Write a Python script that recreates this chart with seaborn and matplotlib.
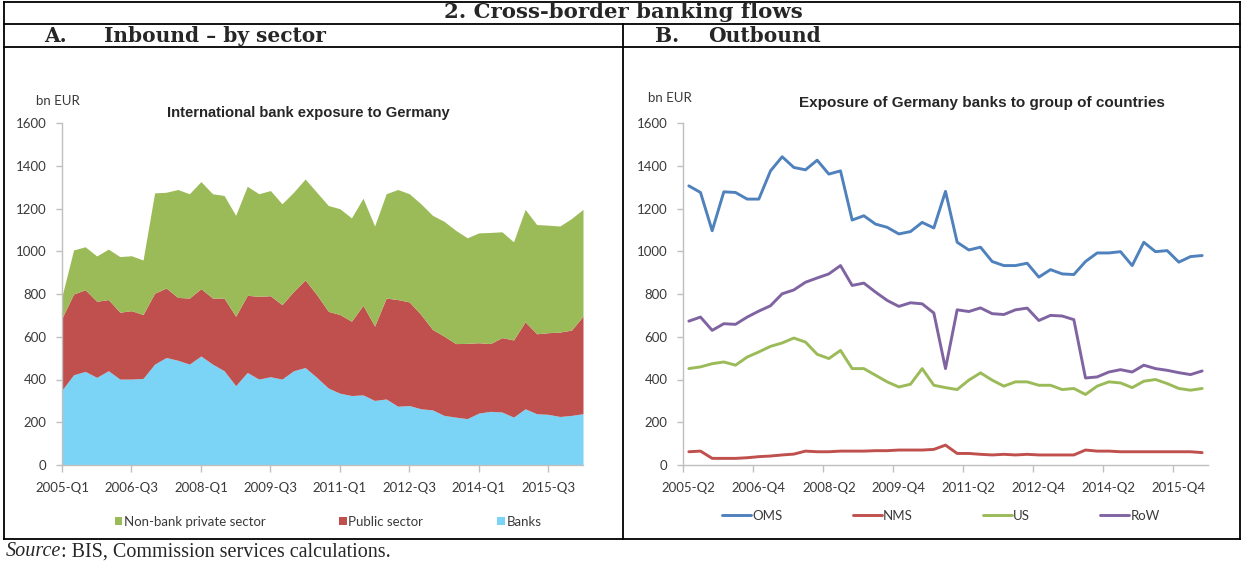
import numpy as np
import pandas as pd
import matplotlib
matplotlib.use("Agg")
import matplotlib.pyplot as plt
import seaborn as sns
from matplotlib.lines import Line2D
from matplotlib.patches import Patch

W, H = 1242, 564

# ---------------- data (bn EUR) ----------------
quarters_in = pd.period_range("2005Q1", "2016Q2", freq="Q")
quarters_out = pd.period_range("2005Q2", "2016Q2", freq="Q")

banks = [351, 422, 438, 410, 441, 402, 402, 405, 472, 503, 490, 472, 510, 472, 441,
         371, 433, 402, 413, 402, 441, 456, 410, 360, 336, 325, 328, 302, 309, 275,
         278, 263, 258, 232, 224, 217, 243, 251, 248, 224, 263, 240, 237, 227, 232, 240]
public_sector = [337, 378, 382, 356, 333, 313, 320, 299, 332, 325, 294, 309, 315, 309, 340,
                 325, 361, 387, 379, 348, 371, 410, 387, 359, 368, 348, 419, 348, 472, 499,
                 485, 441, 376, 371, 344, 352, 329, 317, 348, 361, 407, 374, 382, 395, 399, 456]
nonbank_private = [102, 206, 201, 212, 236, 260, 257, 255, 469, 448, 505, 488, 501, 488, 480,
                   472, 510, 480, 492, 472, 464, 472, 479, 495, 495, 483, 501, 468, 488, 515,
                   506, 518, 534, 537, 530, 494, 514, 520, 495, 459, 526, 511, 503, 496, 522, 500]

oms = [1306, 1275, 1096, 1278, 1275, 1244, 1244, 1376, 1442, 1392, 1381, 1426, 1361, 1376, 1146,
       1166, 1127, 1112, 1081, 1092, 1135, 1109, 1280, 1042, 1006, 1019, 952, 933, 933, 944,
       879, 914, 894, 891, 952, 992, 992, 998, 933, 1042, 998, 1003, 949, 975, 980]
nms = [62, 65, 31, 31, 31, 34, 39, 42, 47, 51, 65, 62, 62, 65, 65,
       65, 67, 67, 70, 70, 70, 73, 93, 54, 54, 50, 47, 50, 47, 50,
       47, 47, 47, 47, 70, 65, 65, 62, 62, 62, 62, 62, 62, 62, 58]
us = [451, 459, 474, 482, 467, 505, 529, 555, 571, 594, 575, 518, 498, 536, 451,
      451, 420, 389, 365, 378, 451, 373, 362, 353, 397, 431, 397, 369, 389, 389,
      373, 373, 353, 358, 330, 369, 389, 384, 362, 392, 400, 381, 358, 350, 358]
row = [673, 692, 630, 661, 658, 692, 720, 745, 801, 819, 855, 875, 894, 933, 840,
       851, 809, 770, 742, 759, 754, 711, 451, 726, 718, 735, 708, 704, 726, 734,
       676, 700, 697, 680, 407, 412, 435, 446, 435, 467, 451, 443, 432, 423, 440]

sector_labels = ["Non-bank private sector", "Public sector", "Banks"]
sector_colors = ["#9BBB59", "#C0504D", "#7BD3F6"]
group_labels = ["OMS", "NMS", "US", "RoW"]
group_colors = ["#4F81BD", "#C0504D", "#9BBB59", "#8064A2"]


def qlab(p):
    return f"{p.year}-Q{p.quarter}"


def fx(x):
    return x / W


def fy(y):
    return 1 - y / H


sns.set_theme(style="white")
plt.rcParams["font.family"] = ["Lato", "DejaVu Sans"]
tick_col = "#3a3a3a"
axis_col = "#BFBFBF"

fig = plt.figure(figsize=(W / 100, H / 100), dpi=100)

# ---------------- table frame ----------------
frame = dict(color="black", lw=1.3, solid_capstyle="projecting")
for y0 in [2, 24, 47, 539]:
    fig.add_artist(Line2D([fx(4), fx(1240)], [fy(y0), fy(y0)], **frame))
for x0, y_top in [(4, 2), (1240, 2), (623, 24)]:
    fig.add_artist(Line2D([fx(x0), fx(x0)], [fy(y_top), fy(539)], **frame))

head = dict(fontweight="bold", family=["DejaVu Serif"], va="baseline", ha="left")
fig.text(fx(623), fy(18.5), "2. Cross-border banking flows", fontsize=15.3,
         **{**head, "ha": "center"})
fig.text(fx(44), fy(42), "A.", fontsize=14.5, **head)
fig.text(fx(104), fy(42), "Inbound \u2013 by sector", fontsize=14.5, **head)
fig.text(fx(655), fy(42), "B.", fontsize=14.5, **head)
fig.text(fx(708), fy(42), "Outbound", fontsize=14.5, **head)

serif = ["Liberation Serif", "DejaVu Serif"]
src = fig.text(fx(6), fy(552), "Source", ha="left", va="center", fontsize=14.5, style="italic", family=serif)
fig.canvas.draw()
bb = src.get_window_extent()
fig.text(bb.x1 / W, fy(552), ": BIS, Commission services calculations.", ha="left", va="center",
         fontsize=14.5, family=serif)


def style_axis(ax):
    sns.despine(ax=ax)
    for s in ["left", "bottom"]:
        ax.spines[s].set_color(axis_col)
        ax.spines[s].set_linewidth(1.0)
    ax.set_ylim(0, 1600)
    ax.set_yticks(range(0, 1601, 200))
    ax.tick_params(axis="y", which="major", direction="out", length=4, width=1, color=axis_col,
                   pad=7, labelsize=9.5, labelcolor=tick_col, left=True)
    ax.grid(False)
    ax.set_xlabel("")
    ax.set_ylabel("")


# ---------------- A: inbound by sector (stacked area) ----------------
ax1 = fig.add_axes([fx(62), fy(465), (583 - 62) / W, (465 - 123) / H])
x_in = np.arange(len(quarters_in))
ax1.stackplot(x_in, banks, public_sector, nonbank_private,
              colors=[sector_colors[2], sector_colors[1], sector_colors[0]], linewidth=0)
style_axis(ax1)
ax1.set_xlim(0, len(quarters_in) - 1)
ax1.set_xticks(x_in[::6])
ax1.set_xticklabels([qlab(p) for p in quarters_in[::6]])
ax1.tick_params(axis="x", direction="out", length=5, width=1, color=axis_col, pad=7,
                labelsize=9.5, labelcolor=tick_col, bottom=True)
fig.text(fx(36), fy(101), "bn EUR", ha="left", va="center", fontsize=9.5, color=tick_col)
fig.text(fx(308), fy(113), "International bank exposure to Germany", ha="center", va="center",
         fontsize=10.6, fontweight="bold", color="#262626", family=["Liberation Sans", "DejaVu Sans"])
h1 = [Patch(facecolor=c, edgecolor="none") for c in sector_colors]
fig.legend(h1, sector_labels, loc="center", bbox_to_anchor=(fx(328), fy(522)), ncol=3,
           frameon=False, fontsize=9.5, handlelength=0.55, handleheight=0.55, handletextpad=0.15,
           columnspacing=5.6, labelcolor=tick_col)

# ---------------- B: outbound by group (lines) ----------------
ax2 = fig.add_axes([fx(683), fy(465), (1208 - 683) / W, (465 - 123) / H])
x_out = np.arange(len(quarters_out))
df = pd.DataFrame({"idx": x_out, "OMS": oms, "NMS": nms, "US": us, "RoW": row})
df = df.melt(id_vars="idx", var_name="group", value_name="value")
sns.lineplot(data=df, x="idx", y="value", hue="group", hue_order=group_labels,
             palette=group_colors, linewidth=2.1, legend=False, ax=ax2)
style_axis(ax2)
ax2.set_xlim(-0.5, len(quarters_out) - 0.5)
ax2.set_xticks(x_out[::6])
ax2.set_xticklabels([qlab(p) for p in quarters_out[::6]])
ax2.set_xticks(np.arange(-0.5, len(quarters_out) - 1, 6), minor=True)
ax2.tick_params(axis="x", which="major", length=0, pad=12, labelsize=9.5, labelcolor=tick_col)
ax2.tick_params(axis="x", which="minor", direction="out", length=5, width=1, color=axis_col,
                bottom=True)
fig.text(fx(648), fy(98), "bn EUR", ha="left", va="center", fontsize=9.5, color=tick_col)
fig.text(fx(982), fy(103), "Exposure of Germany banks to group of countries", ha="center",
         va="center", fontsize=11, fontweight="bold", color="#262626",
         family=["Liberation Sans", "DejaVu Sans"])
h2 = [Line2D([], [], color=c, lw=2.1) for c in group_colors]
fig.legend(h2, group_labels, loc="center", bbox_to_anchor=(fx(941), fy(516)), ncol=4,
           frameon=False, fontsize=9.5, handlelength=2.2, handletextpad=0.1,
           columnspacing=5.3, labelcolor=tick_col)

fig.savefig("out.png", dpi=100)
